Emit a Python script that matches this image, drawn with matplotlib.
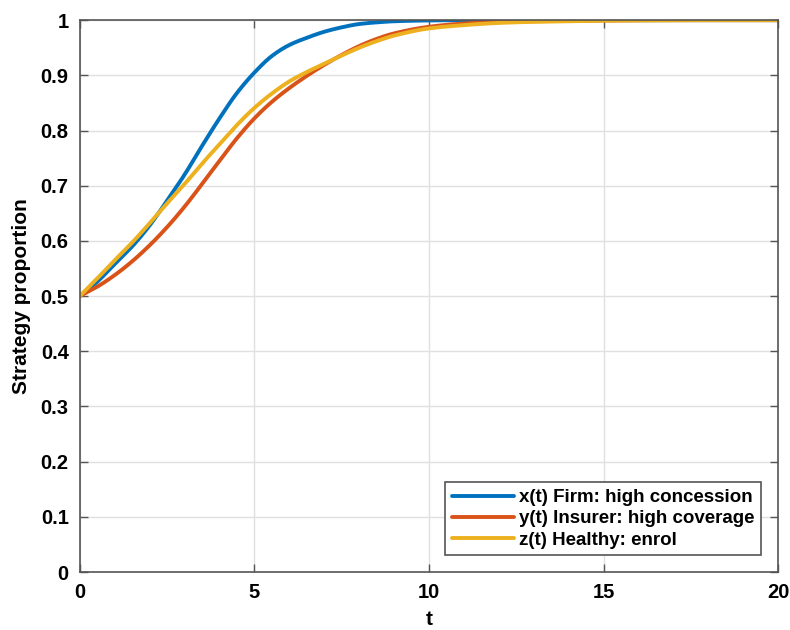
import matplotlib
matplotlib.use("Agg")
import matplotlib.pyplot as plt
import numpy as np

# values
t = [0, 0.5, 1, 1.5, 2, 2.5, 3, 3.5, 4, 4.5, 5, 5.5, 6, 6.5, 7, 7.5, 8, 8.5, 9,
     10, 11, 12, 13, 14, 15, 16, 18, 20]
x_firm = [0.5, 0.526, 0.558, 0.59, 0.628, 0.673, 0.72, 0.772, 0.822, 0.868, 0.905, 0.935, 0.955,
          0.968, 0.979, 0.987, 0.993, 0.996, 0.998, 0.9995, 1, 1, 1, 1, 1, 1, 1, 1]
y_insurer = [0.5, 0.517, 0.538, 0.563, 0.592, 0.625, 0.662, 0.703, 0.745, 0.786, 0.822, 0.852,
             0.877, 0.899, 0.919, 0.937, 0.953, 0.966, 0.976, 0.988, 0.994, 0.997, 0.998, 0.999,
             0.9995, 1, 1, 1]
z_healthy = [0.5, 0.532, 0.565, 0.597, 0.632, 0.668, 0.703, 0.74, 0.775, 0.81, 0.841, 0.867,
             0.889, 0.906, 0.921, 0.936, 0.950, 0.962, 0.972, 0.985, 0.991, 0.995, 0.997, 0.998,
             0.999, 0.9995, 1, 1]

labels = ["x(t) Firm: high concession", "y(t) Insurer: high coverage", "z(t) Healthy: enrol"]
colors = ["#0072BD", "#D95319", "#EDB120"]


def pchip(xk, yk, xs):
    # monotone cubic so the curves don't kink between read points
    xk = np.asarray(xk, float)
    yk = np.asarray(yk, float)
    h = np.diff(xk)
    d = np.diff(yk) / h
    m = np.zeros_like(yk)
    for i in range(1, len(xk) - 1):
        if d[i - 1] * d[i] > 0:
            w1 = 2 * h[i] + h[i - 1]
            w2 = h[i] + 2 * h[i - 1]
            m[i] = (w1 + w2) / (w1 / d[i - 1] + w2 / d[i])
    m[0] = d[0]
    m[-1] = d[-1]
    idx = np.clip(np.searchsorted(xk, xs) - 1, 0, len(xk) - 2)
    hh = h[idx]
    s = (xs - xk[idx]) / hh
    h00 = 2 * s**3 - 3 * s**2 + 1
    h10 = s**3 - 2 * s**2 + s
    h01 = -2 * s**3 + 3 * s**2
    h11 = s**3 - s**2
    return h00 * yk[idx] + h10 * hh * m[idx] + h01 * yk[idx + 1] + h11 * hh * m[idx + 1]


plt.rcParams['font.family'] = ['Liberation Sans', 'DejaVu Sans']

fig = plt.figure(figsize=(7.9, 6.3), dpi=100)
ax = fig.add_axes([0.101, 0.092, 0.884, 0.876])

ts = np.linspace(0, 20, 800)
for vals, lab, c in zip([x_firm, y_insurer, z_healthy], labels, colors):
    ax.plot(ts, pchip(t, vals, ts), color=c, lw=2.8, label=lab, solid_capstyle='round')

ax.set_xlim(0, 20)
ax.set_ylim(0, 1)
ax.set_xticks([0, 5, 10, 15, 20])
ax.set_yticks(np.arange(0, 1.01, 0.1))
ax.set_yticklabels(["0", "0.1", "0.2", "0.3", "0.4", "0.5", "0.6", "0.7", "0.8", "0.9", "1"])
ax.grid(True, color="#e0e0e0", lw=1)
ax.set_axisbelow(True)
ax.tick_params(direction='in', top=True, right=True, length=6, width=1, color="#555555",
               labelsize=14.5, pad=8)
for lbl in ax.get_xticklabels() + ax.get_yticklabels():
    lbl.set_fontweight('bold')
for s in ax.spines.values():
    s.set_color("#555555")
    s.set_linewidth(1.2)

ax.set_xlabel("t", fontsize=15, fontweight='bold', labelpad=6)
ax.set_ylabel("Strategy proportion", fontsize=15, fontweight='bold', labelpad=7)

leg = ax.legend(loc='lower right', prop={'weight': 'bold', 'size': 13.5},
                fancybox=False, edgecolor="#555555", framealpha=1, handlelength=3.3,
                handletextpad=0.3, labelspacing=0.22, borderaxespad=0.9, borderpad=0.35)
leg.get_frame().set_linewidth(1.2)

fig.savefig("out.png", dpi=100)
